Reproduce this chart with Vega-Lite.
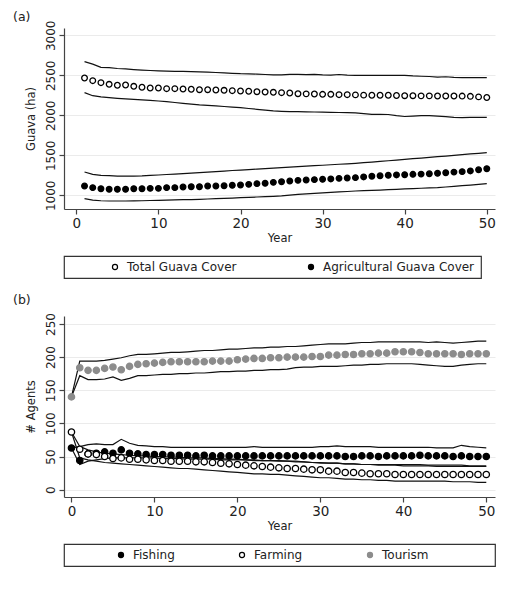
{
  "$schema": "https://vega.github.io/schema/vega-lite/v6.json",
  "padding": {"left": 13, "top": 10, "right": 5, "bottom": 5},
  "background": "white",
  "config": {
    "font": "DejaVu Sans",
    "view": {"stroke": null},
    "axis": {"domainColor": "#444", "tickColor": "#444", "labelColor": "#222", "titleColor": "#222", "titleFontWeight": "normal", "labelFontSize": 12, "titleFontSize": 11.5, "gridColor": "#ebebeb", "gridWidth": 1.2, "tickSize": 5, "domainWidth": 1.2, "tickWidth": 1.2, "labelOverlap": false, "format": "d"},
    "legend": {"strokeColor": "#333", "strokeWidth": 1.2, "padding": 5, "labelFontSize": 12, "labelColor": "#222", "labelLimit": 400, "symbolSize": 26, "symbolStrokeWidth": 1.2, "orient": "bottom", "direction": "horizontal", "labelOffset": 6},
    "title": {"fontSize": 12.5, "fontWeight": "normal", "anchor": "start", "frame": "bounds", "color": "#222", "offset": -3}
  },
  "datasets": {
    "guava": [
      {"year":1,"series":"Total Guava Cover","mean":2466,"lo":2283,"hi":2670},
      {"year":2,"series":"Total Guava Cover","mean":2433,"lo":2245,"hi":2640},
      {"year":3,"series":"Total Guava Cover","mean":2408,"lo":2230,"hi":2600},
      {"year":4,"series":"Total Guava Cover","mean":2387,"lo":2220,"hi":2595},
      {"year":5,"series":"Total Guava Cover","mean":2375,"lo":2212,"hi":2585},
      {"year":6,"series":"Total Guava Cover","mean":2379,"lo":2205,"hi":2580},
      {"year":7,"series":"Total Guava Cover","mean":2362,"lo":2200,"hi":2572},
      {"year":8,"series":"Total Guava Cover","mean":2350,"lo":2192,"hi":2565},
      {"year":9,"series":"Total Guava Cover","mean":2341,"lo":2186,"hi":2560},
      {"year":10,"series":"Total Guava Cover","mean":2341,"lo":2179,"hi":2555},
      {"year":11,"series":"Total Guava Cover","mean":2333,"lo":2170,"hi":2552},
      {"year":12,"series":"Total Guava Cover","mean":2333,"lo":2160,"hi":2550},
      {"year":13,"series":"Total Guava Cover","mean":2329,"lo":2150,"hi":2548},
      {"year":14,"series":"Total Guava Cover","mean":2325,"lo":2140,"hi":2545},
      {"year":15,"series":"Total Guava Cover","mean":2320,"lo":2130,"hi":2542},
      {"year":16,"series":"Total Guava Cover","mean":2320,"lo":2125,"hi":2540},
      {"year":17,"series":"Total Guava Cover","mean":2316,"lo":2118,"hi":2535},
      {"year":18,"series":"Total Guava Cover","mean":2312,"lo":2110,"hi":2530},
      {"year":19,"series":"Total Guava Cover","mean":2308,"lo":2102,"hi":2525},
      {"year":20,"series":"Total Guava Cover","mean":2304,"lo":2095,"hi":2520},
      {"year":21,"series":"Total Guava Cover","mean":2300,"lo":2085,"hi":2518},
      {"year":22,"series":"Total Guava Cover","mean":2295,"lo":2075,"hi":2515},
      {"year":23,"series":"Total Guava Cover","mean":2291,"lo":2065,"hi":2510},
      {"year":24,"series":"Total Guava Cover","mean":2287,"lo":2055,"hi":2505},
      {"year":25,"series":"Total Guava Cover","mean":2283,"lo":2050,"hi":2505},
      {"year":26,"series":"Total Guava Cover","mean":2279,"lo":2045,"hi":2512},
      {"year":27,"series":"Total Guava Cover","mean":2270,"lo":2045,"hi":2512},
      {"year":28,"series":"Total Guava Cover","mean":2268,"lo":2043,"hi":2508},
      {"year":29,"series":"Total Guava Cover","mean":2266,"lo":2041,"hi":2512},
      {"year":30,"series":"Total Guava Cover","mean":2262,"lo":2040,"hi":2505},
      {"year":31,"series":"Total Guava Cover","mean":2262,"lo":2037,"hi":2502},
      {"year":32,"series":"Total Guava Cover","mean":2258,"lo":2035,"hi":2510},
      {"year":33,"series":"Total Guava Cover","mean":2258,"lo":2033,"hi":2502},
      {"year":34,"series":"Total Guava Cover","mean":2255,"lo":2030,"hi":2500},
      {"year":35,"series":"Total Guava Cover","mean":2252,"lo":2020,"hi":2500},
      {"year":36,"series":"Total Guava Cover","mean":2250,"lo":2012,"hi":2500},
      {"year":37,"series":"Total Guava Cover","mean":2250,"lo":2012,"hi":2500},
      {"year":38,"series":"Total Guava Cover","mean":2250,"lo":2010,"hi":2500},
      {"year":39,"series":"Total Guava Cover","mean":2248,"lo":1995,"hi":2500},
      {"year":40,"series":"Total Guava Cover","mean":2245,"lo":1985,"hi":2500},
      {"year":41,"series":"Total Guava Cover","mean":2245,"lo":1990,"hi":2492},
      {"year":42,"series":"Total Guava Cover","mean":2243,"lo":1995,"hi":2488},
      {"year":43,"series":"Total Guava Cover","mean":2243,"lo":1995,"hi":2485},
      {"year":44,"series":"Total Guava Cover","mean":2241,"lo":1990,"hi":2478},
      {"year":45,"series":"Total Guava Cover","mean":2241,"lo":1983,"hi":2482},
      {"year":46,"series":"Total Guava Cover","mean":2241,"lo":1975,"hi":2475},
      {"year":47,"series":"Total Guava Cover","mean":2240,"lo":1970,"hi":2472},
      {"year":48,"series":"Total Guava Cover","mean":2237,"lo":1975,"hi":2472},
      {"year":49,"series":"Total Guava Cover","mean":2230,"lo":1975,"hi":2472},
      {"year":50,"series":"Total Guava Cover","mean":2222,"lo":1975,"hi":2472},
      {"year":1,"series":"Agricultural Guava Cover","mean":1117,"lo":958,"hi":1291},
      {"year":2,"series":"Agricultural Guava Cover","mean":1096,"lo":940,"hi":1262},
      {"year":3,"series":"Agricultural Guava Cover","mean":1083,"lo":932,"hi":1250},
      {"year":4,"series":"Agricultural Guava Cover","mean":1075,"lo":929,"hi":1245},
      {"year":5,"series":"Agricultural Guava Cover","mean":1075,"lo":929,"hi":1241},
      {"year":6,"series":"Agricultural Guava Cover","mean":1075,"lo":929,"hi":1241},
      {"year":7,"series":"Agricultural Guava Cover","mean":1083,"lo":930,"hi":1241},
      {"year":8,"series":"Agricultural Guava Cover","mean":1083,"lo":932,"hi":1243},
      {"year":9,"series":"Agricultural Guava Cover","mean":1087,"lo":935,"hi":1248},
      {"year":10,"series":"Agricultural Guava Cover","mean":1087,"lo":937,"hi":1254},
      {"year":11,"series":"Agricultural Guava Cover","mean":1096,"lo":940,"hi":1260},
      {"year":12,"series":"Agricultural Guava Cover","mean":1096,"lo":942,"hi":1266},
      {"year":13,"series":"Agricultural Guava Cover","mean":1104,"lo":945,"hi":1272},
      {"year":14,"series":"Agricultural Guava Cover","mean":1108,"lo":947,"hi":1278},
      {"year":15,"series":"Agricultural Guava Cover","mean":1108,"lo":950,"hi":1283},
      {"year":16,"series":"Agricultural Guava Cover","mean":1117,"lo":954,"hi":1290},
      {"year":17,"series":"Agricultural Guava Cover","mean":1117,"lo":958,"hi":1296},
      {"year":18,"series":"Agricultural Guava Cover","mean":1120,"lo":962,"hi":1303},
      {"year":19,"series":"Agricultural Guava Cover","mean":1125,"lo":966,"hi":1310},
      {"year":20,"series":"Agricultural Guava Cover","mean":1129,"lo":971,"hi":1316},
      {"year":21,"series":"Agricultural Guava Cover","mean":1137,"lo":975,"hi":1322},
      {"year":22,"series":"Agricultural Guava Cover","mean":1146,"lo":979,"hi":1328},
      {"year":23,"series":"Agricultural Guava Cover","mean":1150,"lo":983,"hi":1334},
      {"year":24,"series":"Agricultural Guava Cover","mean":1162,"lo":987,"hi":1340},
      {"year":25,"series":"Agricultural Guava Cover","mean":1170,"lo":992,"hi":1345},
      {"year":26,"series":"Agricultural Guava Cover","mean":1179,"lo":1002,"hi":1352},
      {"year":27,"series":"Agricultural Guava Cover","mean":1187,"lo":1012,"hi":1358},
      {"year":28,"series":"Agricultural Guava Cover","mean":1192,"lo":1018,"hi":1364},
      {"year":29,"series":"Agricultural Guava Cover","mean":1196,"lo":1024,"hi":1370},
      {"year":30,"series":"Agricultural Guava Cover","mean":1200,"lo":1030,"hi":1376},
      {"year":31,"series":"Agricultural Guava Cover","mean":1205,"lo":1036,"hi":1382},
      {"year":32,"series":"Agricultural Guava Cover","mean":1212,"lo":1042,"hi":1388},
      {"year":33,"series":"Agricultural Guava Cover","mean":1216,"lo":1048,"hi":1394},
      {"year":34,"series":"Agricultural Guava Cover","mean":1221,"lo":1054,"hi":1400},
      {"year":35,"series":"Agricultural Guava Cover","mean":1230,"lo":1058,"hi":1408},
      {"year":36,"series":"Agricultural Guava Cover","mean":1238,"lo":1062,"hi":1416},
      {"year":37,"series":"Agricultural Guava Cover","mean":1245,"lo":1066,"hi":1424},
      {"year":38,"series":"Agricultural Guava Cover","mean":1250,"lo":1070,"hi":1432},
      {"year":39,"series":"Agricultural Guava Cover","mean":1255,"lo":1075,"hi":1441},
      {"year":40,"series":"Agricultural Guava Cover","mean":1258,"lo":1080,"hi":1449},
      {"year":41,"series":"Agricultural Guava Cover","mean":1262,"lo":1084,"hi":1458},
      {"year":42,"series":"Agricultural Guava Cover","mean":1265,"lo":1088,"hi":1466},
      {"year":43,"series":"Agricultural Guava Cover","mean":1270,"lo":1092,"hi":1475},
      {"year":44,"series":"Agricultural Guava Cover","mean":1275,"lo":1096,"hi":1483},
      {"year":45,"series":"Agricultural Guava Cover","mean":1283,"lo":1104,"hi":1491},
      {"year":46,"series":"Agricultural Guava Cover","mean":1290,"lo":1112,"hi":1500},
      {"year":47,"series":"Agricultural Guava Cover","mean":1296,"lo":1120,"hi":1508},
      {"year":48,"series":"Agricultural Guava Cover","mean":1305,"lo":1128,"hi":1517},
      {"year":49,"series":"Agricultural Guava Cover","mean":1320,"lo":1137,"hi":1525},
      {"year":50,"series":"Agricultural Guava Cover","mean":1333,"lo":1146,"hi":1533}
    ],
    "agents": [
      {"year":0,"series":"Fishing","mean":63,"lo":63,"hi":63},
      {"year":1,"series":"Fishing","mean":44,"lo":38,"hi":65},
      {"year":2,"series":"Fishing","mean":54,"lo":43,"hi":68},
      {"year":3,"series":"Fishing","mean":55,"lo":45,"hi":69},
      {"year":4,"series":"Fishing","mean":57,"lo":47,"hi":68},
      {"year":5,"series":"Fishing","mean":55,"lo":48,"hi":68},
      {"year":6,"series":"Fishing","mean":60,"lo":48,"hi":76},
      {"year":7,"series":"Fishing","mean":55,"lo":48,"hi":70},
      {"year":8,"series":"Fishing","mean":54,"lo":48,"hi":67},
      {"year":9,"series":"Fishing","mean":53,"lo":48,"hi":66},
      {"year":10,"series":"Fishing","mean":53,"lo":48,"hi":65},
      {"year":11,"series":"Fishing","mean":53,"lo":47,"hi":65},
      {"year":12,"series":"Fishing","mean":52,"lo":47,"hi":64},
      {"year":13,"series":"Fishing","mean":52,"lo":47,"hi":64},
      {"year":14,"series":"Fishing","mean":52,"lo":46,"hi":64},
      {"year":15,"series":"Fishing","mean":51,"lo":46,"hi":64},
      {"year":16,"series":"Fishing","mean":52,"lo":46,"hi":64},
      {"year":17,"series":"Fishing","mean":51,"lo":46,"hi":64},
      {"year":18,"series":"Fishing","mean":51,"lo":45,"hi":64},
      {"year":19,"series":"Fishing","mean":51,"lo":45,"hi":64},
      {"year":20,"series":"Fishing","mean":51,"lo":45,"hi":64},
      {"year":21,"series":"Fishing","mean":51,"lo":45,"hi":64},
      {"year":22,"series":"Fishing","mean":51,"lo":44,"hi":65},
      {"year":23,"series":"Fishing","mean":51,"lo":44,"hi":64},
      {"year":24,"series":"Fishing","mean":51,"lo":44,"hi":64},
      {"year":25,"series":"Fishing","mean":51,"lo":44,"hi":64},
      {"year":26,"series":"Fishing","mean":51,"lo":43,"hi":64},
      {"year":27,"series":"Fishing","mean":51,"lo":43,"hi":64},
      {"year":28,"series":"Fishing","mean":51,"lo":42,"hi":64},
      {"year":29,"series":"Fishing","mean":51,"lo":41,"hi":64},
      {"year":30,"series":"Fishing","mean":51,"lo":40,"hi":65},
      {"year":31,"series":"Fishing","mean":51,"lo":40,"hi":65},
      {"year":32,"series":"Fishing","mean":51,"lo":40,"hi":66},
      {"year":33,"series":"Fishing","mean":50,"lo":39,"hi":65},
      {"year":34,"series":"Fishing","mean":50,"lo":39,"hi":65},
      {"year":35,"series":"Fishing","mean":51,"lo":38,"hi":65},
      {"year":36,"series":"Fishing","mean":51,"lo":38,"hi":65},
      {"year":37,"series":"Fishing","mean":50,"lo":38,"hi":64},
      {"year":38,"series":"Fishing","mean":51,"lo":38,"hi":64},
      {"year":39,"series":"Fishing","mean":51,"lo":38,"hi":64},
      {"year":40,"series":"Fishing","mean":51,"lo":38,"hi":64},
      {"year":41,"series":"Fishing","mean":51,"lo":38,"hi":64},
      {"year":42,"series":"Fishing","mean":52,"lo":38,"hi":64},
      {"year":43,"series":"Fishing","mean":51,"lo":37,"hi":64},
      {"year":44,"series":"Fishing","mean":51,"lo":37,"hi":63},
      {"year":45,"series":"Fishing","mean":51,"lo":37,"hi":63},
      {"year":46,"series":"Fishing","mean":50,"lo":37,"hi":63},
      {"year":47,"series":"Fishing","mean":51,"lo":37,"hi":67},
      {"year":48,"series":"Fishing","mean":50,"lo":36,"hi":65},
      {"year":49,"series":"Fishing","mean":50,"lo":36,"hi":64},
      {"year":50,"series":"Fishing","mean":50,"lo":36,"hi":63},
      {"year":0,"series":"Farming","mean":87,"lo":87,"hi":87},
      {"year":1,"series":"Farming","mean":61,"lo":48,"hi":65},
      {"year":2,"series":"Farming","mean":54,"lo":45,"hi":60},
      {"year":3,"series":"Farming","mean":53,"lo":43,"hi":57},
      {"year":4,"series":"Farming","mean":50,"lo":41,"hi":55},
      {"year":5,"series":"Farming","mean":47,"lo":40,"hi":54},
      {"year":6,"series":"Farming","mean":48,"lo":39,"hi":53},
      {"year":7,"series":"Farming","mean":46,"lo":38,"hi":52},
      {"year":8,"series":"Farming","mean":46,"lo":37,"hi":51},
      {"year":9,"series":"Farming","mean":45,"lo":36,"hi":51},
      {"year":10,"series":"Farming","mean":44,"lo":35,"hi":50},
      {"year":11,"series":"Farming","mean":44,"lo":34,"hi":50},
      {"year":12,"series":"Farming","mean":43,"lo":33,"hi":49},
      {"year":13,"series":"Farming","mean":43,"lo":32,"hi":49},
      {"year":14,"series":"Farming","mean":43,"lo":32,"hi":48},
      {"year":15,"series":"Farming","mean":42,"lo":31,"hi":48},
      {"year":16,"series":"Farming","mean":42,"lo":30,"hi":48},
      {"year":17,"series":"Farming","mean":41,"lo":29,"hi":47},
      {"year":18,"series":"Farming","mean":40,"lo":28,"hi":47},
      {"year":19,"series":"Farming","mean":39,"lo":27,"hi":46},
      {"year":20,"series":"Farming","mean":38,"lo":26,"hi":46},
      {"year":21,"series":"Farming","mean":37,"lo":25,"hi":45},
      {"year":22,"series":"Farming","mean":36,"lo":24,"hi":45},
      {"year":23,"series":"Farming","mean":35,"lo":24,"hi":44},
      {"year":24,"series":"Farming","mean":34,"lo":23,"hi":44},
      {"year":25,"series":"Farming","mean":33,"lo":23,"hi":43},
      {"year":26,"series":"Farming","mean":32,"lo":22,"hi":43},
      {"year":27,"series":"Farming","mean":32,"lo":21,"hi":42},
      {"year":28,"series":"Farming","mean":31,"lo":20,"hi":42},
      {"year":29,"series":"Farming","mean":30,"lo":19,"hi":41},
      {"year":30,"series":"Farming","mean":30,"lo":18,"hi":41},
      {"year":31,"series":"Farming","mean":28,"lo":18,"hi":40},
      {"year":32,"series":"Farming","mean":28,"lo":17,"hi":40},
      {"year":33,"series":"Farming","mean":26,"lo":16,"hi":39},
      {"year":34,"series":"Farming","mean":26,"lo":16,"hi":39},
      {"year":35,"series":"Farming","mean":25,"lo":15,"hi":38},
      {"year":36,"series":"Farming","mean":24,"lo":15,"hi":38},
      {"year":37,"series":"Farming","mean":24,"lo":14,"hi":37},
      {"year":38,"series":"Farming","mean":24,"lo":14,"hi":37},
      {"year":39,"series":"Farming","mean":23,"lo":13,"hi":37},
      {"year":40,"series":"Farming","mean":23,"lo":13,"hi":36},
      {"year":41,"series":"Farming","mean":23,"lo":13,"hi":36},
      {"year":42,"series":"Farming","mean":23,"lo":13,"hi":36},
      {"year":43,"series":"Farming","mean":23,"lo":13,"hi":36},
      {"year":44,"series":"Farming","mean":23,"lo":13,"hi":35},
      {"year":45,"series":"Farming","mean":23,"lo":13,"hi":35},
      {"year":46,"series":"Farming","mean":23,"lo":12,"hi":35},
      {"year":47,"series":"Farming","mean":23,"lo":12,"hi":35},
      {"year":48,"series":"Farming","mean":23,"lo":12,"hi":35},
      {"year":49,"series":"Farming","mean":23,"lo":11,"hi":35},
      {"year":50,"series":"Farming","mean":23,"lo":11,"hi":35},
      {"year":0,"series":"Tourism","mean":140,"lo":140,"hi":140},
      {"year":1,"series":"Tourism","mean":184,"lo":172,"hi":194},
      {"year":2,"series":"Tourism","mean":180,"lo":166,"hi":194},
      {"year":3,"series":"Tourism","mean":180,"lo":166,"hi":194},
      {"year":4,"series":"Tourism","mean":183,"lo":167,"hi":195},
      {"year":5,"series":"Tourism","mean":185,"lo":170,"hi":197},
      {"year":6,"series":"Tourism","mean":181,"lo":165,"hi":199},
      {"year":7,"series":"Tourism","mean":186,"lo":168,"hi":202},
      {"year":8,"series":"Tourism","mean":189,"lo":172,"hi":204},
      {"year":9,"series":"Tourism","mean":190,"lo":172,"hi":204},
      {"year":10,"series":"Tourism","mean":191,"lo":173,"hi":205},
      {"year":11,"series":"Tourism","mean":192,"lo":174,"hi":206},
      {"year":12,"series":"Tourism","mean":193,"lo":174,"hi":207},
      {"year":13,"series":"Tourism","mean":193,"lo":175,"hi":207},
      {"year":14,"series":"Tourism","mean":193,"lo":175,"hi":208},
      {"year":15,"series":"Tourism","mean":193,"lo":176,"hi":209},
      {"year":16,"series":"Tourism","mean":193,"lo":176,"hi":210},
      {"year":17,"series":"Tourism","mean":194,"lo":177,"hi":210},
      {"year":18,"series":"Tourism","mean":194,"lo":178,"hi":211},
      {"year":19,"series":"Tourism","mean":194,"lo":178,"hi":212},
      {"year":20,"series":"Tourism","mean":196,"lo":179,"hi":212},
      {"year":21,"series":"Tourism","mean":197,"lo":179,"hi":213},
      {"year":22,"series":"Tourism","mean":198,"lo":180,"hi":214},
      {"year":23,"series":"Tourism","mean":198,"lo":180,"hi":214},
      {"year":24,"series":"Tourism","mean":199,"lo":181,"hi":215},
      {"year":25,"series":"Tourism","mean":199,"lo":181,"hi":215},
      {"year":26,"series":"Tourism","mean":200,"lo":182,"hi":216},
      {"year":27,"series":"Tourism","mean":200,"lo":184,"hi":216},
      {"year":28,"series":"Tourism","mean":200,"lo":185,"hi":217},
      {"year":29,"series":"Tourism","mean":201,"lo":185,"hi":218},
      {"year":30,"series":"Tourism","mean":201,"lo":186,"hi":219},
      {"year":31,"series":"Tourism","mean":203,"lo":186,"hi":220},
      {"year":32,"series":"Tourism","mean":203,"lo":186,"hi":220},
      {"year":33,"series":"Tourism","mean":204,"lo":187,"hi":220},
      {"year":34,"series":"Tourism","mean":204,"lo":188,"hi":221},
      {"year":35,"series":"Tourism","mean":205,"lo":188,"hi":222},
      {"year":36,"series":"Tourism","mean":205,"lo":189,"hi":222},
      {"year":37,"series":"Tourism","mean":206,"lo":189,"hi":223},
      {"year":38,"series":"Tourism","mean":206,"lo":190,"hi":223},
      {"year":39,"series":"Tourism","mean":208,"lo":190,"hi":223},
      {"year":40,"series":"Tourism","mean":208,"lo":190,"hi":223},
      {"year":41,"series":"Tourism","mean":208,"lo":190,"hi":223},
      {"year":42,"series":"Tourism","mean":207,"lo":189,"hi":223},
      {"year":43,"series":"Tourism","mean":205,"lo":188,"hi":222},
      {"year":44,"series":"Tourism","mean":205,"lo":187,"hi":223},
      {"year":45,"series":"Tourism","mean":205,"lo":186,"hi":222},
      {"year":46,"series":"Tourism","mean":205,"lo":186,"hi":221},
      {"year":47,"series":"Tourism","mean":204,"lo":188,"hi":222},
      {"year":48,"series":"Tourism","mean":205,"lo":189,"hi":223},
      {"year":49,"series":"Tourism","mean":205,"lo":190,"hi":224},
      {"year":50,"series":"Tourism","mean":205,"lo":190,"hi":224}
    ]
  },
  "spacing": 15,
  "resolve": {
    "scale": {"x": "independent", "y": "independent", "fill": "independent", "stroke": "independent"},
    "legend": {"fill": "independent", "stroke": "independent"}
  },
  "vconcat": [
    {
      "title": {"text": "(a)", "dx": -12},
      "width": 431,
      "height": 181,
      "data": {"name": "guava"},
      "encoding": {
        "x": {"field": "year", "type": "quantitative", "scale": {"domain": [-1.5, 51], "nice": false, "zero": false}, "axis": {"values": [0, 10, 20, 30, 40, 50], "tickCount": 10, "title": "Year", "grid": false, "labelFontSize": 13.5, "labelPadding": 2, "titlePadding": 3}}
      },
      "layer": [
        {
          "mark": {"type": "line", "color": "#111", "strokeWidth": 1.2},
          "encoding": {
            "y": {"field": "hi", "type": "quantitative", "scale": {"domain": [829, 3091], "nice": false, "zero": false}, "axis": {"values": [1000, 1500, 2000, 2500, 3000], "tickCount": 10, "title": "Guava (ha)", "labelAngle": -90, "labelOverlap": false, "grid": true, "titlePadding": 8}},
            "detail": {"field": "series", "type": "nominal"}
          }
        },
        {
          "mark": {"type": "line", "color": "#111", "strokeWidth": 1.2},
          "encoding": {
            "y": {"field": "lo", "type": "quantitative"},
            "detail": {"field": "series", "type": "nominal"}
          }
        },
        {
          "mark": {"type": "point", "size": 32, "strokeWidth": 1.3, "opacity": 1},
          "encoding": {
            "y": {"field": "mean", "type": "quantitative"},
            "fill": {"field": "series", "type": "nominal", "scale": {"domain": ["Total Guava Cover", "Agricultural Guava Cover"], "range": ["white", "black"]}, "legend": {"title": "\u00a0", "titleOrient": "right", "titlePadding": 2, "symbolOffset": 40, "columnPadding": 28, "offset": 12}},
            "stroke": {"field": "series", "type": "nominal", "scale": {"domain": ["Total Guava Cover", "Agricultural Guava Cover"], "range": ["black", "black"]}, "legend": {"title": "\u00a0"}}
          }
        }
      ]
    },
    {
      "title": {"text": "(b)", "dx": -12, "offset": 6},
      "width": 431,
      "height": 181,
      "data": {"name": "agents"},
      "encoding": {
        "x": {"field": "year", "type": "quantitative", "scale": {"domain": [-0.9, 51.05], "nice": false, "zero": false}, "axis": {"values": [0, 10, 20, 30, 40, 50], "tickCount": 10, "title": "Year", "grid": false, "labelFontSize": 13.5, "labelPadding": 2, "titlePadding": 3}}
      },
      "layer": [
        {
          "mark": {"type": "line", "color": "#111", "strokeWidth": 1.2},
          "encoding": {
            "y": {"field": "hi", "type": "quantitative", "scale": {"domain": [-11, 262], "nice": false, "zero": false}, "axis": {"values": [0, 50, 100, 150, 200, 250], "tickCount": 10, "title": "# Agents", "labelAngle": -90, "labelOverlap": false, "grid": true, "titlePadding": 8}},
            "detail": {"field": "series", "type": "nominal"}
          }
        },
        {
          "mark": {"type": "line", "color": "#111", "strokeWidth": 1.2},
          "encoding": {
            "y": {"field": "lo", "type": "quantitative"},
            "detail": {"field": "series", "type": "nominal"}
          }
        },
        {
          "mark": {"type": "point", "size": 40, "strokeWidth": 1.3, "opacity": 1},
          "encoding": {
            "y": {"field": "mean", "type": "quantitative"},
            "fill": {"field": "series", "type": "nominal", "scale": {"domain": ["Fishing", "Farming", "Tourism"], "range": ["black", "white", "#8c8c8c"]}, "legend": {"title": "\u00a0", "titleOrient": "right", "titlePadding": 62, "symbolOffset": 46, "columnPadding": 15, "offset": 12}},
            "stroke": {"field": "series", "type": "nominal", "scale": {"domain": ["Fishing", "Farming", "Tourism"], "range": ["black", "black", "#8c8c8c"]}, "legend": {"title": "\u00a0"}}
          }
        }
      ]
    }
  ]
}
